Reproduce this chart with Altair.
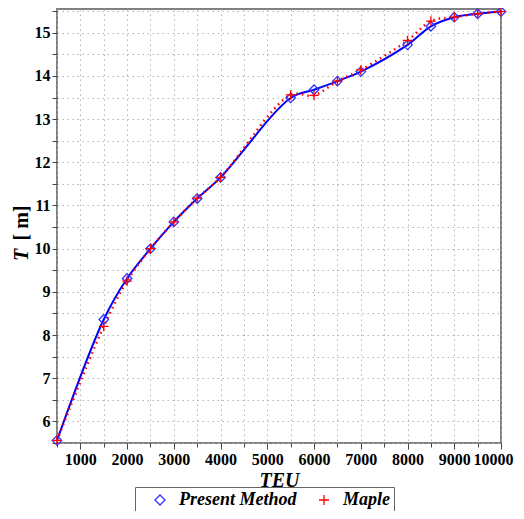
import altair as alt
import pandas as pd

teu = [500, 1500, 2000, 2500, 3000, 3500, 4000, 5500, 6000, 6500, 7000, 8000, 8500, 9000, 9500, 10000]
present = [5.56, 8.36, 9.31, 10.0, 10.62, 11.16, 11.65, 13.49, 13.68, 13.88, 14.10, 14.72, 15.15, 15.36, 15.44, 15.49]
maple = [5.56, 8.20, 9.25, 10.0, 10.62, 11.17, 11.65, 13.56, 13.55, 13.88, 14.14, 14.82, 15.27, 15.36, 15.44, 15.49]

x_ticks = list(range(500, 10001, 500))
y_ticks = [5.5 + 0.5 * i for i in range(21)]

series_names = ["Present Method", "Maple"]

df = pd.DataFrame({
    "TEU": teu * 2,
    "T": present + maple,
    "series": [series_names[0]] * len(teu) + [series_names[1]] * len(teu),
})

FONT = "Liberation Serif"

x_enc = alt.X("TEU:Q", scale=alt.Scale(domain=[500, 10000], nice=False, zero=False),
              axis=alt.Axis(values=x_ticks, labelExpr="datum.value % 1000 == 0 ? '' + datum.value : ''",
                            title="TEU", titleFontStyle="italic", labelOverlap=False,
                            labelFlush=True, labelFlushOffset=12, titlePadding=3,
                            tickSize={"condition": {"test": "datum.value % 1000 == 0", "value": 6}, "value": 4}))
y_enc = alt.Y("T:Q", scale=alt.Scale(domain=[5.5, 15.55], nice=False, zero=False),
              axis=alt.Axis(values=y_ticks, labelExpr="datum.value % 1 == 0 ? '' + datum.value : ''",
                            title="", labelOverlap=False, tickSize=5))

base = alt.Chart(df)

line_present = base.transform_filter(alt.datum.series == series_names[0]).mark_line(
    color="#0000ff", strokeWidth=2, interpolate="catmull-rom").encode(x=x_enc, y=y_enc)
line_maple = base.transform_filter(alt.datum.series == series_names[1]).mark_line(
    color="#ff0000", strokeWidth=2.5, strokeDash=[1.5, 4], interpolate="catmull-rom").encode(x=x_enc, y=y_enc)

points = base.mark_point(filled=False, strokeWidth=1.3, size=90, opacity=1).encode(
    x=x_enc, y=y_enc,
    color=alt.Color("series:N", scale=alt.Scale(domain=series_names, range=["#3333ff", "#ff0000"]),
                    legend=alt.Legend(title=None, orient="none", legendX=78, legendY=478,
                                      direction="horizontal")),
    shape=alt.Shape("series:N", scale=alt.Scale(domain=series_names,
                                                range=["diamond", "M-1,0L1,0M0,-1L0,1"])),
)

title_df = pd.DataFrame({"t": ["T"], "u": ["[ m]"]})
title_t = alt.Chart(title_df).mark_text(
    font=FONT, fontSize=20, fontWeight="bold", fontStyle="italic", angle=270, color="#000"
).encode(text="t:N", x=alt.value(-35), y=alt.value(246))
title_u = alt.Chart(title_df).mark_text(
    font=FONT, fontSize=20, fontWeight="bold", angle=270, color="#000"
).encode(text="u:N", x=alt.value(-35), y=alt.value(214))

chart = alt.layer(line_present, line_maple, points, title_t, title_u).properties(
    width=444, height=434, autosize=alt.AutoSizeParams(type="none"),
    padding={"left": 49, "top": 1, "right": 15, "bottom": 68}
).configure_view(stroke="#808080", strokeWidth=2).configure_axis(
    labelFont=FONT, labelFontWeight="bold", labelFontSize=16, labelColor="#000",
    titleFont=FONT, titleFontWeight="bold", titleFontSize=20, titleColor="#000",
    gridColor="#b4b4b4", gridDash=[1.5, 3.5], gridWidth=1,
    domain=False, tickColor="#444", labelPadding=2,
).configure_legend(
    labelFont=FONT, labelFontWeight="bold", labelFontStyle="italic", labelFontSize=18,
    labelColor="#000", strokeColor="#666", padding=4, symbolSize=100, symbolStrokeWidth=1.3,
    columnPadding=6, labelOffset=10, symbolOffset=12,
)

chart.save("out.html", embed_options={"renderer": "svg", "actions": False})
